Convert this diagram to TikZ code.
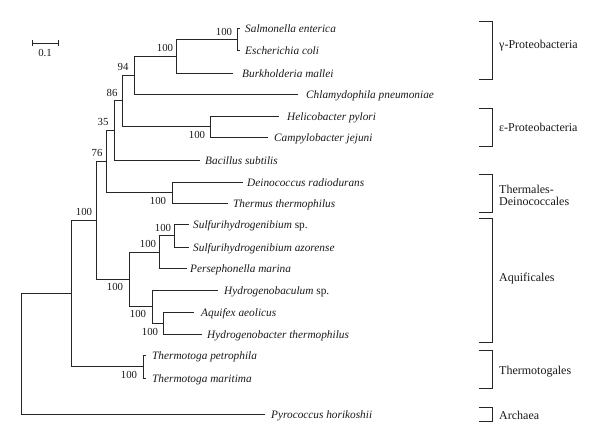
\documentclass[tikz,border=0pt]{standalone}
\usepackage{fontspec}
\setmainfont{Liberation Serif}
\begin{document}
\begin{tikzpicture}[x=1pt,y=-1pt,
  br/.style={draw=black!85,line width=1pt},
  leaf/.style={anchor=base west,inner sep=0pt,font=\fontsize{11.3}{13}\selectfont\itshape,text=black!90},
  boot/.style={anchor=center,inner sep=0pt,font=\fontsize{10.8}{12}\selectfont,text=black!90},
  grp/.style={anchor=west,inner sep=0pt,font=\fontsize{12}{13}\selectfont,text=black!90,align=left},
  bk/.style={draw=black!85,line width=1pt}]
\path[use as bounding box] (0,0) rectangle (600,442);

% scale bar
\coordinate (sbL) at (32,43);
\coordinate (sbR) at (58,43);
\draw[br] (sbL) -- (sbR);
\draw[br] ([yshift=-3pt]sbL) -- ([yshift=3pt]sbL);
\draw[br] ([yshift=-3pt]sbR) -- ([yshift=3pt]sbR);
\node[boot] (sblab) at (45,53) {0.1};

% leaf tips
\coordinate (tSal) at (240,28);
\coordinate (tEco) at (240,50);
\coordinate (tBur) at (233,73);
\coordinate (tChl) at (298,94);
\coordinate (tHel) at (279,116);
\coordinate (tCam) at (268,137);
\coordinate (tBac) at (200,160);
\coordinate (tDei) at (243,182);
\coordinate (tThe) at (228,203);
\coordinate (tSsp) at (189,224);
\coordinate (tSaz) at (189,247);
\coordinate (tPer) at (187,268);
\coordinate (tHyd) at (218,290);
\coordinate (tAqu) at (194,312);
\coordinate (tHyb) at (202,334);
\coordinate (tTpe) at (146,355);
\coordinate (tTma) at (146,378);
\coordinate (tPyr) at (265,414);

% internal nodes
\coordinate (nSE) at (237,39);
\coordinate (nB)  at (176,56);
\coordinate (n94) at (134,75);
\coordinate (nHC) at (210,126.5);
\coordinate (n86) at (122,100.5);
\coordinate (n35) at (114,130);
\coordinate (nDT) at (172,192.5);
\coordinate (n76) at (106,161);
\coordinate (nSS) at (174,235.5);
\coordinate (nSP) at (159,252);
\coordinate (nAH) at (163,323);
\coordinate (nHA) at (152,306.5);
\coordinate (nAq) at (129,279);
\coordinate (n96) at (96,220);
\coordinate (nTT) at (143,366.5);
\coordinate (n71) at (71,293);
\coordinate (nR)  at (21,353.5);

% branches
\draw[br] (nSE) |- (tSal); \draw[br] (nSE) |- (tEco);
\draw[br] (nB) |- (nSE);   \draw[br] (nB) |- (tBur);
\draw[br] (n94) |- (nB);   \draw[br] (n94) |- (tChl);
\draw[br] (nHC) |- (tHel); \draw[br] (nHC) |- (tCam);
\draw[br] (n86) |- (n94);  \draw[br] (n86) |- (nHC);
\draw[br] (n35) |- (n86);  \draw[br] (n35) |- (tBac);
\draw[br] (nDT) |- (tDei); \draw[br] (nDT) |- (tThe);
\draw[br] (n76) |- (n35);  \draw[br] (n76) |- (nDT);
\draw[br] (nSS) |- (tSsp); \draw[br] (nSS) |- (tSaz);
\draw[br] (nSP) |- (nSS);  \draw[br] (nSP) |- (tPer);
\draw[br] (nAH) |- (tAqu); \draw[br] (nAH) |- (tHyb);
\draw[br] (nHA) |- (tHyd); \draw[br] (nHA) |- (nAH);
\draw[br] (nAq) |- (nSP);  \draw[br] (nAq) |- (nHA);
\draw[br] (n96) |- (n76);  \draw[br] (n96) |- (nAq);
\draw[br] (nTT) |- (tTpe); \draw[br] (nTT) |- (tTma);
\draw[br] (n71) |- (n96);  \draw[br] (n71) |- (nTT);
\draw[br] (nR) |- (n71);   \draw[br] (nR) |- (tPyr);

% leaf labels
\node[leaf] (lSal) at (245,32) {Salmonella enterica};
\node[leaf] (lEco) at (245,54) {Escherichia coli};
\node[leaf] (lBur) at (242,77) {Burkholderia mallei};
\node[leaf] (lChl) at (306,98) {Chlamydophila pneumoniae};
\node[leaf] (lHel) at (287,120) {Helicobacter pylori};
\node[leaf] (lCam) at (274,141) {Campylobacter jejuni};
\node[leaf] (lBac) at (205,164) {Bacillus subtilis};
\node[leaf] (lDei) at (247,186) {Deinococcus radiodurans};
\node[leaf] (lThe) at (233,207) {Thermus thermophilus};
\node[leaf] (lSsp) at (193,228) {Sulfurihydrogenibium \upshape sp.};
\node[leaf] (lSaz) at (193,251) {Sulfurihydrogenibium azorense};
\node[leaf] (lPer) at (190,272) {Persephonella marina};
\node[leaf] (lHyd) at (224,294) {Hydrogenobaculum \upshape sp.};
\node[leaf] (lAqu) at (201,316) {Aquifex aeolicus};
\node[leaf] (lHyb) at (207,338) {Hydrogenobacter thermophilus};
\node[leaf] (lTpe) at (152,359) {Thermotoga petrophila};
\node[leaf] (lTma) at (152,382) {Thermotoga maritima};
\node[leaf] (lPyr) at (271,418) {Pyrococcus horikoshii};

% bootstrap values
\node[boot] (bSE) at (224,32) {100};
\node[boot] (bB)  at (165,48) {100};
\node[boot] (b94) at (123,67) {94};
\node[boot] (b86) at (112,93) {86};
\node[boot] (bHC) at (197,135) {100};
\node[boot] (b35) at (103,122) {35};
\node[boot] (b76) at (97,153) {76};
\node[boot] (b96) at (84,212) {100};
\node[boot] (bDT) at (158,201) {100};
\node[boot] (bSS) at (163,228) {100};
\node[boot] (bSP) at (148,244) {100};
\node[boot] (bAq) at (115,287) {100};
\node[boot] (bHA) at (138,314) {100};
\node[boot] (bAH) at (150,332) {100};
\node[boot] (bTT) at (129,375) {100};

% group brackets
\draw[bk] (479,21) -- (492,21) -- (492,79) -- (479,79);
\draw[bk] (479,108) -- (492,108) -- (492,146) -- (479,146);
\draw[bk] (479,174) -- (492,174) -- (492,212) -- (479,212);
\draw[bk] (479,218) -- (492,218) -- (492,342) -- (479,342);
\draw[bk] (479,350) -- (492,350) -- (492,388) -- (479,388);
\draw[bk] (479,407) -- (492,407) -- (492,421) -- (479,421);
\node[grp] (gG) at (499,46) {γ-Proteobacteria};
\node[grp] (gE) at (499,127) {ε-Proteobacteria};
\node[grp] (gT) at (499,195) {Thermales-\\[-1pt]Deinococcales};
\node[grp] (gA) at (499,279) {Aquificales};
\node[grp] (gM) at (499,372) {Thermotogales};
\node[grp] (gR) at (499,415) {Archaea};
\end{tikzpicture}
\end{document}
